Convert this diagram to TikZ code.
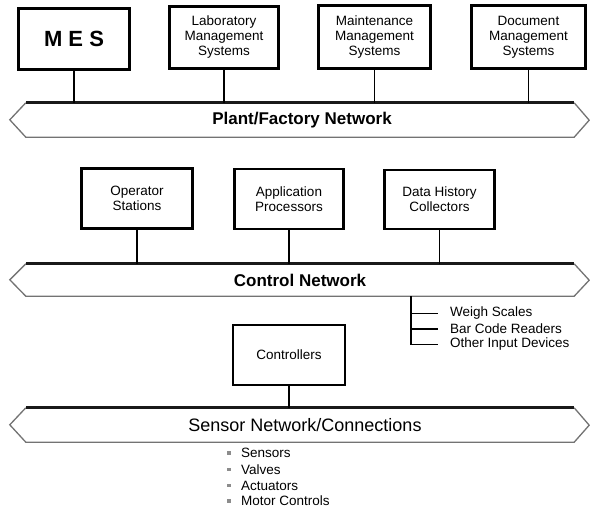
\documentclass[tikz,border=0pt]{standalone}
\usepackage{fontspec}
\setmainfont{Liberation Sans}
\begin{document}
\begin{tikzpicture}[x=1pt,y=1pt,
  sysbox/.style={draw, line width=2.6pt, align=center, inner sep=2pt, font=\fontsize{13.5}{15}\selectfont},
  ctlbox/.style={draw, line width=1.8pt, align=center, inner sep=2pt, font=\fontsize{13.5}{15}\selectfont},
  link/.style={line width=1.6pt},
  nettop/.style={line width=2.8pt, black!90},
  netedge/.style={line width=1.3pt, black!55, line join=miter},
  netarea/.style={inner sep=0pt, minimum width=548, minimum height=34},
  netlabel/.style={inner sep=0pt, font=\fontsize{17}{20}\selectfont\bfseries},
  item/.style={anchor=west, inner sep=0pt, font=\fontsize{13.5}{15}\selectfont},
]
\useasboundingbox (0,0) rectangle (590,-516);

% ---- top level systems
\node[sysbox, minimum width=111, minimum height=61, font=\fontsize{22}{24}\selectfont\bfseries] (mes) at (74,-39) {M E S};
\node[sysbox, minimum width=109, minimum height=62] (lab) at (224,-37.5) {Laboratory\\Management\\Systems};
\node[sysbox, minimum width=112, minimum height=63] (maint) at (374.5,-37) {Maintenance\\Management\\Systems};
\node[sysbox, minimum width=114, minimum height=63] (doc) at (528.5,-37) {Document\\Management\\Systems};

% ---- plant network
\node[netarea] (plant) at (300,-120) {};
\node[netlabel] (plantlbl) at (302,-120) {Plant/Factory Network};
\draw[netedge] (plant.north west) -- ++(-16,-17) -- (plant.south west) -- (plant.south east) -- ++(15,17) -- (plant.north east);
\draw[nettop] (plant.north west) -- (plant.north east);

\foreach \b in {mes,lab,maint,doc}
  \draw[link] (\b.south) -- (\b.south |- plant.north);

% ---- control level
\node[sysbox, minimum width=111, minimum height=60] (op) at (137,-198.5) {Operator\\Stations};
\node[sysbox, minimum width=109, minimum height=60] (app) at (289,-199) {Application\\Processors};
\node[sysbox, minimum width=110, minimum height=59] (dhc) at (439.5,-199.5) {Data History\\Collectors};

\node[netarea, minimum height=32] (control) at (300,-280) {};
\node[netlabel] (controllbl) at (300,-280) {Control Network};
\draw[netedge] (control.north west) -- ++(-16,-16) -- (control.south west) -- (control.south east) -- ++(15,16) -- (control.north east);
\draw[nettop] (control.north west) -- (control.north east);

\foreach \b in {op,app,dhc}
  \draw[link] (\b.south) -- (\b.south |- control.north);

% ---- input devices
\path (control.south) ++(111,0) coordinate (tap);
\node[item] (ws) at (450,-313.5) {Weigh Scales};
\node[item] (bcr) at (450,-329) {Bar Code Readers};
\node[item] (oid) at (450,-344.5) {Other Input Devices};
\draw[link] (tap) -- (tap |- oid.west) -- ([xshift=-12pt]oid.west);
\draw[link] (tap |- ws.west) -- ([xshift=-12pt]ws.west);
\draw[link] (tap |- bcr.west) -- ([xshift=-12pt]bcr.west);

% ---- controllers and sensor network
\node[ctlbox, minimum width=112, minimum height=60] (ctl) at (289,-355) {Controllers};

\node[netarea] (sensor) at (300,-425) {};
\node[inner sep=0pt, font=\fontsize{18}{20}\selectfont] (sensorlbl) at (305,-425) {Sensor Network/Connections};
\draw[netedge] (sensor.north west) -- ++(-16,-17) -- (sensor.south west) -- (sensor.south east) -- ++(15,17) -- (sensor.north east);
\draw[nettop] (sensor.north west) -- (sensor.north east);

\draw[link, line width=2.2pt] (ctl.south) -- (ctl.south |- sensor.north);

% ---- field devices
\node[item] (sen) at (241,-453) {Sensors};
\node[item] (val) at (241,-469.5) {Valves};
\node[item] (act) at (241,-485.5) {Actuators};
\node[item] (mot) at (241,-501) {Motor Controls};
\foreach \n in {sen,val,act,mot}
  \fill[black!45] ([xshift=-12pt]\n.west) ++(-1.6,-1.6) rectangle ++(3.2,3.2);
\end{tikzpicture}
\end{document}
